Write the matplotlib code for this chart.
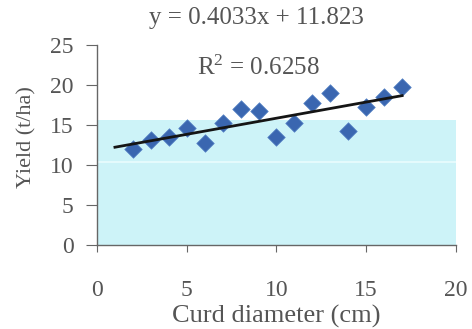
import matplotlib
matplotlib.use("Agg")
import matplotlib.pyplot as plt
import numpy as np

# Data
curd_diameter = [2, 3, 4, 5, 6, 7, 8, 9, 10, 11, 12, 13, 14, 15, 16, 17]
yield_t_ha = [12.0, 13.1, 13.5, 14.6, 12.7, 15.3, 17.0, 16.75, 13.5, 15.2, 17.7, 19.0, 14.2, 17.3, 18.5, 19.8]
slope = 0.4033
intercept = 11.823
r_squared = 0.6258
trend_x_range = [1, 17]
x_ticks = [0, 5, 10, 15, 20]
y_ticks = [0, 5, 10, 15, 20, 25]

plt.rcParams['font.family'] = ['Liberation Serif', 'DejaVu Serif']
text_color = '#555555'

fig = plt.figure(figsize=(4.72, 3.29), dpi=100)
ax = fig.add_axes([0.2055, 0.2553, 0.7605, 0.6077])

# light cyan background band
ax.axhspan(0, 15.6, color='#cdf3f8', zorder=0, lw=0)
ax.axhline(10.4, color='#e4fafc', lw=1.5, zorder=0.5)

ax.scatter(curd_diameter, yield_t_ha, marker='D', s=80, color='#3a66b0',
           edgecolors='#5a86c8', linewidths=0.5, zorder=3)

xs = np.array(trend_x_range, dtype=float)
ax.plot(xs, slope * xs + intercept, color='#151515', lw=2, zorder=4)

ax.set_xlim(0, 20)
ax.set_ylim(0, 25)
ax.set_xticks(x_ticks)
ax.set_yticks(y_ticks)
for s in ['top', 'right']:
    ax.spines[s].set_visible(False)
for s in ['left', 'bottom']:
    ax.spines[s].set_color('#666666')
    ax.spines[s].set_linewidth(1)
ax.tick_params(axis='x', direction='out', length=5, pad=20, labelsize=17,
               colors='#666666', labelcolor=text_color)
ax.tick_params(axis='y', direction='out', length=8, pad=9, labelsize=17,
               colors='#666666', labelcolor=text_color)

ax.set_xlabel('Curd diameter (cm)', fontsize=19, color=text_color, va='top')
ax.xaxis.set_label_coords(0.5, -0.3)
ax.set_ylabel('Yield (t/ha)', fontsize=16, color=text_color, va='center')
ax.yaxis.set_label_coords(-0.195, 0.54)

fig.text(0.543, 0.945, 'y = 0.4033x + 11.823', ha='center', va='center',
         fontsize=18, color=text_color)
fig.text(0.547, 0.795, '$\\mathregular{R^2}$ = 0.6258', ha='center', va='center',
         fontsize=18, color=text_color)

fig.savefig('out.png', dpi=100)
